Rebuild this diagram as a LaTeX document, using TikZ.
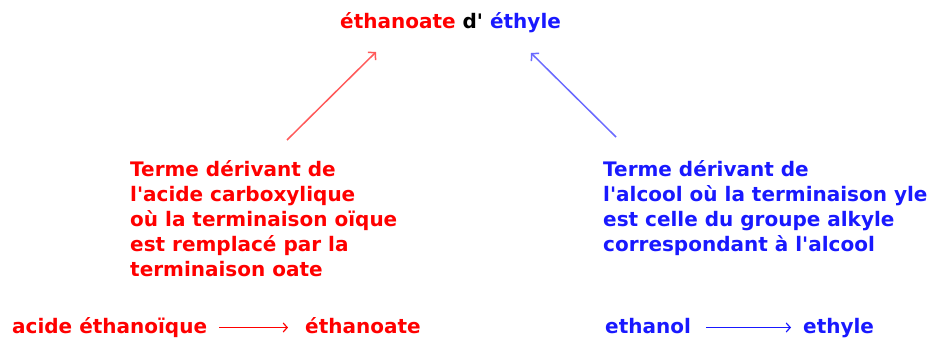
\documentclass[tikz,border=0pt]{standalone}
\usepackage{fontspec}
\setmainfont{DejaVu Sans}[Ligatures=TeXOff]
\usetikzlibrary{arrows.meta}
\definecolor{myred}{RGB}{255,0,0}
\definecolor{myblue}{RGB}{25,25,255}
\tikzset{
  txt/.style={font=\bfseries\fontsize{20}{25}\selectfont, inner sep=0pt, anchor=base west},
  para/.style={font=\bfseries\fontsize{20}{25}\selectfont, inner sep=0pt, anchor=north west, align=left},
  diag/.style={line width=1.5pt, -{Straight Barb[length=5pt,width=11pt]}},
  conv/.style={line width=1.2pt, -{Straight Barb[length=4pt,width=9pt]}},
}
\begin{document}
\begin{tikzpicture}[x=1pt,y=1pt]
\useasboundingbox (0,0) rectangle (935,-340);
% title
\node[txt, text=myred] (t1) at (340,-28) {éthanoate};
\node[txt] (t2) at (t1.base east) {\kern0.33em d'\kern0.33em};
\node[txt, text=myblue] (t3) at (t2.base east) {éthyle};
% paragraphs
\node[para, text=myred] (p1) at (130,-160) {Terme dérivant de\\l'acide carboxylique\\où la terminaison oïque\\est remplacé par la\\terminaison oate};
\node[para, text=myblue] (p2) at (603,-160) {Terme dérivant de\\l'alcool où la terminaison yle\\est celle du groupe alkyle\\correspondant à l'alcool};
% arrow ends
\coordinate (r0) at (287,-140);
\coordinate (r1) at (376,-52);
\coordinate (b0) at (616,-137);
\coordinate (b1) at (531,-53);
\draw[diag, myred!65] (r0) -- (r1);
\draw[diag, myblue!65] (b0) -- (b1);
% bottom
\node[txt, text=myred] (a1) at (12,-333) {acide éthanoïque};
\node[txt, text=myred] (a2) at (305,-333) {éthanoate};
\node[txt, text=myblue] (e1) at (605,-333) {ethanol};
\node[txt, text=myblue] (e2) at (803,-333) {ethyle};
\coordinate (ra) at (219,-327.5);
\coordinate (rb) at (288,-327.5);
\coordinate (ea) at (706,-327.5);
\coordinate (eb) at (791,-327.5);
\draw[conv, myred] (ra) -- (rb);
\draw[conv, myblue] (ea) -- (eb);
\end{tikzpicture}
\end{document}
